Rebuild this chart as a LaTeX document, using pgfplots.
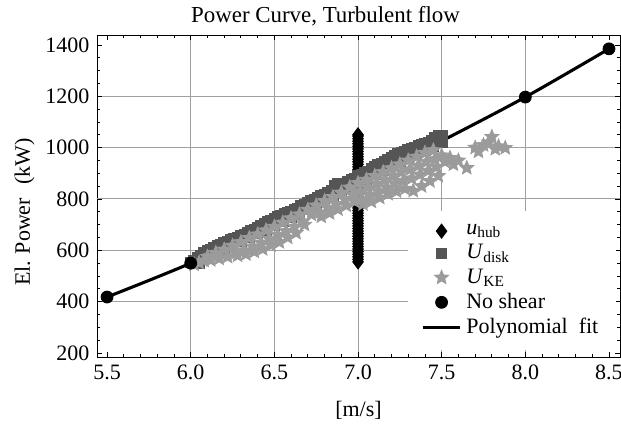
\documentclass[border=0pt]{standalone}
\usepackage{fontspec}
\setmainfont{Liberation Serif}
\usepackage{pgfplots}
\pgfplotsset{compat=1.18}
\usetikzlibrary{plotmarks}

\definecolor{udisk}{RGB}{85,85,85}
\definecolor{uke}{RGB}{155,155,155}
\definecolor{gridc}{RGB}{160,160,160}

% filled five-pointed star
\pgfdeclareplotmark{fstar}{%
  \pgfpathmoveto{\pgfpointpolar{90}{\pgfplotmarksize}}%
  \pgfpathlineto{\pgfpointpolar{126}{0.45\pgfplotmarksize}}%
  \pgfpathlineto{\pgfpointpolar{162}{\pgfplotmarksize}}%
  \pgfpathlineto{\pgfpointpolar{198}{0.45\pgfplotmarksize}}%
  \pgfpathlineto{\pgfpointpolar{234}{\pgfplotmarksize}}%
  \pgfpathlineto{\pgfpointpolar{270}{0.45\pgfplotmarksize}}%
  \pgfpathlineto{\pgfpointpolar{306}{\pgfplotmarksize}}%
  \pgfpathlineto{\pgfpointpolar{342}{0.45\pgfplotmarksize}}%
  \pgfpathlineto{\pgfpointpolar{18}{\pgfplotmarksize}}%
  \pgfpathlineto{\pgfpointpolar{54}{0.45\pgfplotmarksize}}%
  \pgfpathclose
  \pgfusepathqfillstroke}

\begin{document}
\begin{tikzpicture}
\begin{axis}[
    name=ax,
    scale only axis,
    width=237.7pt, height=146.4pt,
    xmin=5.44, xmax=8.566,
    ymin=184, ymax=1439,
    xtick={5.5,6,...,8.5},
    ytick={200,400,...,1400},
    minor x tick num=4,
    minor y tick num=3,
    tick align=inside,
    major tick length=2.4pt,
    minor tick length=1.4pt,
    tick style={black, line width=0.4pt},
    % grid only on the inner ticks
    extra x ticks={6,6.5,7,7.5,8},
    extra x tick labels={},
    extra y ticks={400,600,800,1000,1200},
    extra y tick labels={},
    extra tick style={grid=major, major grid style={gridc, line width=0.45pt}},
    /pgf/number format/assume math mode=true,
    xticklabel style={/pgf/number format/.cd, fixed, fixed zerofill, precision=1},
    yticklabel style={/pgf/number format/1000 sep={}},
    title={Power Curve, Turbulent flow},
    title style={xshift=-15pt, yshift=-5.5pt, font=\fontsize{10.4}{12}\selectfont},
    xlabel={[m/s]},
    xlabel style={yshift=-3pt},
    ylabel={El.\hspace{0.3em}Power\hspace{0.6em}(kW)},
    ylabel style={at={(ticklabel cs:0.45,-2pt)}},
    legend cell align=left,
    legend style={at={(0.993,0.02)}, anchor=south east, draw=none, fill=white,
        inner xsep=6pt, inner ysep=4pt, row sep=-1pt,
        /tikz/every even column/.append style={column sep=12pt}},
]

% polynomial fit, drawn under the scatter
\addplot[black, line width=1.4pt, smooth, forget plot] coordinates {
    (5.5,418) (6.0,550) (6.5,703) (7.0,862) (7.5,1026) (8.0,1197) (8.5,1385)
};

% u_hub
\addplot[only marks, mark=diamond*, mark size=3.2pt, black] coordinates {
    (7,555) (7,565) (7,575) (7,585) (7,595) (7,605) (7,615) (7,625) (7,635)
    (7,645) (7,655) (7,665) (7,675) (7,685) (7,695) (7,705) (7,715) (7,725)
    (7,735) (7,745) (7,755) (7,765) (7,775) (7,785) (7,795) (7,805) (7,815)
    (7,825) (7,835) (7,845) (7,855) (7,865) (7,875) (7,885) (7,895) (7,905)
    (7,915) (7,925) (7,935) (7,945) (7,955) (7,965) (7,975) (7,985) (7,995)
    (7,1005) (7,1015) (7,1025) (7,1035) (7,1045) (7,1050)
};
\addlegendentry{\textit{u}\textsubscript{hub}}

% U_disk
\addplot[only marks, mark=square*, mark size=2.4pt, udisk] coordinates {
    (6.00,552) (6.02,560) (6.04,572) (6.06,578) (6.08,590) (6.10,598)
    (6.12,603) (6.14,610) (6.16,618) (6.18,622) (6.20,628) (6.22,632)
    (6.24,640) (6.26,646) (6.28,650) (6.30,657) (6.32,662) (6.34,668)
    (6.36,676) (6.38,682) (6.40,688) (6.42,694) (6.44,702) (6.46,710)
    (6.48,716) (6.50,724) (6.52,730) (6.54,735) (6.56,742) (6.58,748)
    (6.60,752) (6.62,760) (6.64,764) (6.66,772) (6.68,778) (6.70,786)
    (6.72,792) (6.74,798) (6.76,804) (6.78,812) (6.80,818) (6.82,824)
    (6.84,832) (6.86,850) (6.88,858) (6.90,856) (6.92,860) (6.94,866)
    (6.96,874) (6.98,880) (7.00,890) (7.02,896) (7.04,902) (7.06,908)
    (7.08,916) (7.10,924) (7.12,932) (7.14,938) (7.16,946) (7.18,952)
    (7.20,960) (7.22,968) (7.24,975) (7.26,980) (7.28,986) (7.30,990)
    (7.32,996) (7.34,1000) (7.36,1006) (7.38,1010) (7.40,1014) (7.42,1020)
    (7.44,1026) (7.46,1040) (7.48,1046) (7.50,1048)
    (6.05,550) (6.10,570) (6.15,590) (6.20,605) (6.25,620) (6.30,635)
    (6.35,650) (6.40,665) (6.45,680) (6.50,698) (6.55,712) (6.60,728)
    (6.65,745) (6.70,760) (6.75,776) (6.80,792) (6.85,808) (6.90,825)
    (6.95,842) (7.00,862) (7.05,878) (7.10,895) (7.15,912) (7.20,930)
    (7.25,948) (7.30,962) (7.35,975) (7.40,990) (7.45,1005) (7.50,1020)
};
\addlegendentry{\textit{U}\textsubscript{disk}}

% U_KE
\addplot[only marks, mark=fstar, mark size=3.3pt, uke] coordinates {
    (6.02,545) (6.05,552) (6.08,560) (6.10,575) (6.12,562) (6.15,590)
    (6.17,568) (6.20,603) (6.22,575) (6.25,618) (6.27,590) (6.28,580)
    (6.30,632) (6.32,600) (6.33,585) (6.35,648) (6.37,615) (6.38,595)
    (6.40,662) (6.42,630) (6.43,605) (6.45,678) (6.47,645) (6.48,620)
    (6.50,692) (6.52,660) (6.53,632) (6.55,708) (6.57,675) (6.58,650)
    (6.60,725) (6.62,692) (6.63,668) (6.65,740) (6.67,712) (6.68,700)
    (6.70,758) (6.72,740) (6.75,775) (6.77,748) (6.78,732) (6.80,792)
    (6.82,765) (6.83,745) (6.85,808) (6.87,780) (6.88,760) (6.90,825)
    (6.92,800) (6.93,775) (6.95,845) (6.97,815) (6.98,790) (7.00,862)
    (7.01,830) (7.02,800) (7.03,780) (7.05,875) (7.06,845) (7.07,815)
    (7.08,790) (7.10,890) (7.11,860) (7.12,830) (7.13,805) (7.15,905)
    (7.16,875) (7.17,845) (7.18,820) (7.20,920) (7.21,890) (7.22,860)
    (7.23,830) (7.25,935) (7.26,905) (7.27,870) (7.28,840) (7.30,950)
    (7.31,915) (7.32,880) (7.33,832) (7.35,965) (7.36,930) (7.37,895)
    (7.38,850) (7.40,980) (7.41,945) (7.42,910) (7.43,870) (7.45,990)
    (7.46,955) (7.47,925) (7.48,890) (7.50,970) (7.52,945) (7.55,960)
    (7.57,935) (7.60,950) (7.65,921) (7.70,1000) (7.72,985) (7.75,1010)
    (7.78,1020) (7.80,1042) (7.82,995) (7.84,1005) (7.88,999)
};
\addlegendentry{\textit{U}\textsubscript{KE}}

% no shear
\addplot[only marks, mark=*, mark size=2.7pt, black] coordinates {
    (5.5,418) (6.0,550) (8.0,1197) (8.5,1385)
};
\addlegendentry{No shear}

\addlegendimage{black, line width=1.4pt}
\addlegendentry{Polynomial\ \ fit}

\end{axis}
\pgfresetboundingbox
\path ([shift={(-44.1pt,-32.7pt)}]ax.south west) rectangle ([shift={(0.45pt,15.9pt)}]ax.north east);
\end{tikzpicture}
\end{document}
